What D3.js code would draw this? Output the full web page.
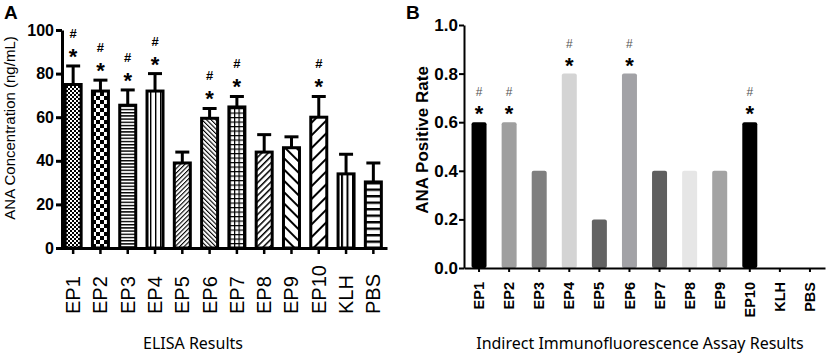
<!DOCTYPE html>
<html>
<head>
<meta charset="utf-8">
<script src="https://cdn.jsdelivr.net/npm/d3@7"></script>
<style>
  body { margin: 0; background: #fff; }
  svg { display: block; }
  .tickA text { font-family: Arial, "Liberation Sans", sans-serif; font-weight: bold; font-size: 16px; fill: #000; }
  .xlabA text { font-family: Arial, "Liberation Sans", sans-serif; font-size: 20px; fill: #000; }
  .xlabB text { font-family: Arial, "Liberation Sans", sans-serif; font-size: 14.5px; font-weight: bold; fill: #000; }
</style>
</head>
<body>
<div id="chart"></div>
<script>
  var groups = ["EP1", "EP2", "EP3", "EP4", "EP5", "EP6", "EP7", "EP8", "EP9", "EP10", "KLH", "PBS"];

  // panel A: ELISA, mean and upper error bar (ng/mL)
  var elisaMean = [75, 72, 65.5, 72, 39, 59.5, 64.7, 44, 46, 60, 34, 30.3];
  var elisaErr  = [83.5, 77, 72.5, 80, 44, 64, 69.5, 52, 51, 69.5, 43, 39];
  var elisaSig  = [1, 1, 1, 1, 0, 1, 1, 0, 0, 1, 0, 0];
  var yTicksA = [0, 20, 40, 60, 80, 100];

  // panel B: IIF positive rate
  var iifRate = [0.6, 0.6, 0.4, 0.8, 0.2, 0.8, 0.4, 0.4, 0.4, 0.6, 0, 0];
  var iifSig  = [1, 1, 0, 1, 0, 1, 0, 0, 0, 1, 0, 0];
  var iifColors = ["#000000", "#9f9f9f", "#7f7f7f", "#d4d4d4", "#636363", "#a2a2a6",
                   "#5f5f5f", "#e6e6e6", "#a3a3a3", "#000000", "#ffffff", "#ffffff"];
  var yTicksB = [0, 0.2, 0.4, 0.6, 0.8, 1.0];

  var svg = d3.select("#chart").append("svg")
      .attr("width", 830)
      .attr("height", 354);

  var defs = svg.append("defs");

  // fill patterns for panel A
  function pat(id, w, h, rot) {
    var p = defs.append("pattern")
        .attr("id", id)
        .attr("patternUnits", "userSpaceOnUse")
        .attr("width", w).attr("height", h);
    if (rot) p.attr("patternTransform", "rotate(" + rot + ")");
    p.append("rect").attr("width", w).attr("height", h).attr("fill", "#fff");
    return p;
  }
  var p;
  p = pat("pat0", 4, 4);
  p.append("rect").attr("width", 2).attr("height", 2);
  p.append("rect").attr("x", 2).attr("y", 2).attr("width", 2).attr("height", 2);
  p = pat("pat1", 8, 8);
  p.append("rect").attr("width", 4).attr("height", 4);
  p.append("rect").attr("x", 4).attr("y", 4).attr("width", 4).attr("height", 4);
  p = pat("pat2", 4, 3.2);
  p.append("rect").attr("width", 4).attr("height", 1.4);
  p = pat("pat3", 5, 4);
  p.append("rect").attr("width", 1.4).attr("height", 4);
  p = pat("pat4", 3.2, 4, 45);
  p.append("rect").attr("width", 1.1).attr("height", 4);
  p = pat("pat5", 3.2, 4, -45);
  p.append("rect").attr("width", 1.1).attr("height", 4);
  p = pat("pat6", 4.5, 4.5);
  p.append("rect").attr("width", 1.2).attr("height", 4.5);
  p.append("rect").attr("width", 4.5).attr("height", 1.2);
  p = pat("pat7", 4.5, 4, 45);
  p.append("rect").attr("width", 1.5).attr("height", 4);
  p = pat("pat8", 8, 4, -45);
  p.append("rect").attr("width", 2).attr("height", 4);
  p = pat("pat9", 9, 4, 45);
  p.append("rect").attr("width", 2).attr("height", 4);
  p = pat("pat10", 5.5, 4);
  p.append("rect").attr("width", 2).attr("height", 4);
  p = pat("pat11", 4, 6.5);
  p.append("rect").attr("width", 4).attr("height", 2.4);

  ////// Panel A //////////////////////
  var xA = d3.scaleBand().domain(groups).range([59.5, 387]);
  var yA = d3.scaleLinear().domain([0, 100]).range([248, 30]);
  var gA = svg.append("g");

  var barWA = 16;
  // error bars first
  var eb = gA.append("g").selectAll("g").data(groups).enter().append("g");
  eb.append("line")
      .attr("x1", function(d) { return xA(d) + xA.bandwidth() / 2; })
      .attr("x2", function(d) { return xA(d) + xA.bandwidth() / 2; })
      .attr("y1", function(d, i) { return yA(elisaMean[i]); })
      .attr("y2", function(d, i) { return yA(elisaErr[i]); })
      .attr("stroke", "#000").attr("stroke-width", 3);
  eb.append("line")
      .attr("x1", function(d) { return xA(d) + xA.bandwidth() / 2 - 7; })
      .attr("x2", function(d) { return xA(d) + xA.bandwidth() / 2 + 7; })
      .attr("y1", function(d, i) { return yA(elisaErr[i]); })
      .attr("y2", function(d, i) { return yA(elisaErr[i]); })
      .attr("stroke", "#000").attr("stroke-width", 3);

  gA.append("g").selectAll("rect").data(groups).enter().append("rect")
      .attr("x", function(d) { return xA(d) + (xA.bandwidth() - barWA) / 2; })
      .attr("width", barWA)
      .attr("y", function(d, i) { return yA(elisaMean[i]); })
      .attr("height", function(d, i) { return yA(0) - yA(elisaMean[i]); })
      .attr("fill", function(d, i) { return "url(#pat" + i + ")"; })
      .attr("stroke", "#000").attr("stroke-width", 3);

  // significance marks
  var sA = gA.append("g").selectAll("g").data(groups.filter(function(d, i) { return elisaSig[i]; }))
      .enter().append("g")
      .attr("transform", function(d) {
        var i = groups.indexOf(d);
        return "translate(" + (xA(d) + xA.bandwidth() / 2) + "," + yA(elisaErr[i]) + ")";
      });
  sA.append("text").text("*")
      .attr("text-anchor", "middle").attr("y", -2)
      .style("font", "bold 22px Arial, sans-serif");
  sA.append("text").text("#")
      .attr("text-anchor", "middle").attr("y", -28)
      .style("font", "bold 13px Arial, sans-serif").style("fill", "#000");

  // axes
  gA.append("g")
      .attr("class", "tickA")
      .attr("transform", "translate(62,0)")
      .call(d3.axisLeft(yA).tickValues(yTicksA).tickSize(6).tickSizeOuter(0))
      .call(function(g) {
        g.selectAll("path, line").attr("stroke", "#000").attr("stroke-width", 3);
        g.selectAll("text").attr("x", -8);
      });
  gA.append("g")
      .attr("class", "xlabA")
      .attr("transform", "translate(0,248)")
      .call(d3.axisBottom(xA).tickSize(6).tickSizeOuter(0))
      .call(function(g) {
        g.select(".domain").attr("stroke", "#000").attr("stroke-width", 3);
        g.selectAll("line").attr("stroke", "#000").attr("stroke-width", 2.5);
        g.selectAll("text")
            .attr("transform", "rotate(-90)")
            .attr("text-anchor", "start")
            .attr("x", -66).attr("y", 0).attr("dy", "0.35em");
      });

  svg.append("text")
      .attr("transform", "translate(15,128) rotate(-90)")
      .attr("text-anchor", "middle")
      .style("font", "15px Arial, sans-serif")
      .text("ANA Concentration (ng/mL)");
  svg.append("text")
      .attr("x", 193).attr("y", 349)
      .attr("text-anchor", "middle")
      .style("font", "16px 'Noto Sans', sans-serif")
      .text("ELISA Results");
  svg.append("text")
      .attr("x", 4).attr("y", 19)
      .style("font", "bold 19px Arial, sans-serif")
      .text("A");

  ////// Panel B //////////////////////
  var xB = d3.scaleBand().domain(groups).range([464, 825]);
  var yB = d3.scaleLinear().domain([0, 1]).range([268, 25]);
  var gB = svg.append("g");
  var barWB = 15;

  gB.append("g").selectAll("rect").data(groups).enter().append("rect")
      .attr("x", function(d) { return xB(d) + (xB.bandwidth() - barWB) / 2; })
      .attr("width", barWB)
      .attr("y", function(d, i) { return yB(iifRate[i]); })
      .attr("height", function(d, i) { return yB(0) - yB(iifRate[i]); })
      .attr("rx", 2)
      .attr("fill", function(d, i) { return iifColors[i]; });

  var sB = gB.append("g").selectAll("g").data(groups.filter(function(d, i) { return iifSig[i]; }))
      .enter().append("g")
      .attr("transform", function(d) {
        var i = groups.indexOf(d);
        return "translate(" + (xB(d) + xB.bandwidth() / 2) + "," + yB(iifRate[i]) + ")";
      });
  sB.append("text").text("*")
      .attr("text-anchor", "middle").attr("y", -1)
      .style("font", "bold 22px Arial, sans-serif");
  sB.append("text").text("#")
      .attr("text-anchor", "middle").attr("y", -26)
      .style("font", "12px Arial, sans-serif").style("fill", "#555");

  gB.append("g")
      .attr("class", "tickA")
      .attr("transform", "translate(464,0)")
      .call(d3.axisLeft(yB).tickValues(yTicksB).tickFormat(d3.format(".1f")).tickSize(5).tickSizeOuter(0))
      .call(function(g) {
        g.selectAll("path, line").attr("stroke", "#000").attr("stroke-width", 2);
        g.selectAll("text").attr("x", -6).style("font-size", "17px");
      });
  gB.append("g")
      .attr("class", "xlabB")
      .attr("transform", "translate(0,268)")
      .call(d3.axisBottom(xB).tickSize(4).tickSizeOuter(0))
      .call(function(g) {
        g.select(".domain").attr("stroke", "#000").attr("stroke-width", 2);
        g.selectAll("line").attr("stroke", "#000").attr("stroke-width", 2);
        g.selectAll("text")
            .attr("transform", "rotate(-90)")
            .attr("text-anchor", "end")
            .attr("x", -14).attr("y", 0).attr("dy", "0.35em");
      });

  svg.append("text")
      .attr("transform", "translate(428,140) rotate(-90)")
      .attr("text-anchor", "middle")
      .style("font", "bold 17px Arial, sans-serif")
      .text("ANA Positive Rate");
  svg.append("text")
      .attr("x", 640).attr("y", 349)
      .attr("text-anchor", "middle")
      .style("font", "16px 'Noto Sans', sans-serif")
      .text("Indirect Immunofluorescence Assay Results");
  svg.append("text")
      .attr("x", 406).attr("y", 19)
      .style("font", "bold 19px Arial, sans-serif")
      .text("B");
</script>
</body>
</html>
